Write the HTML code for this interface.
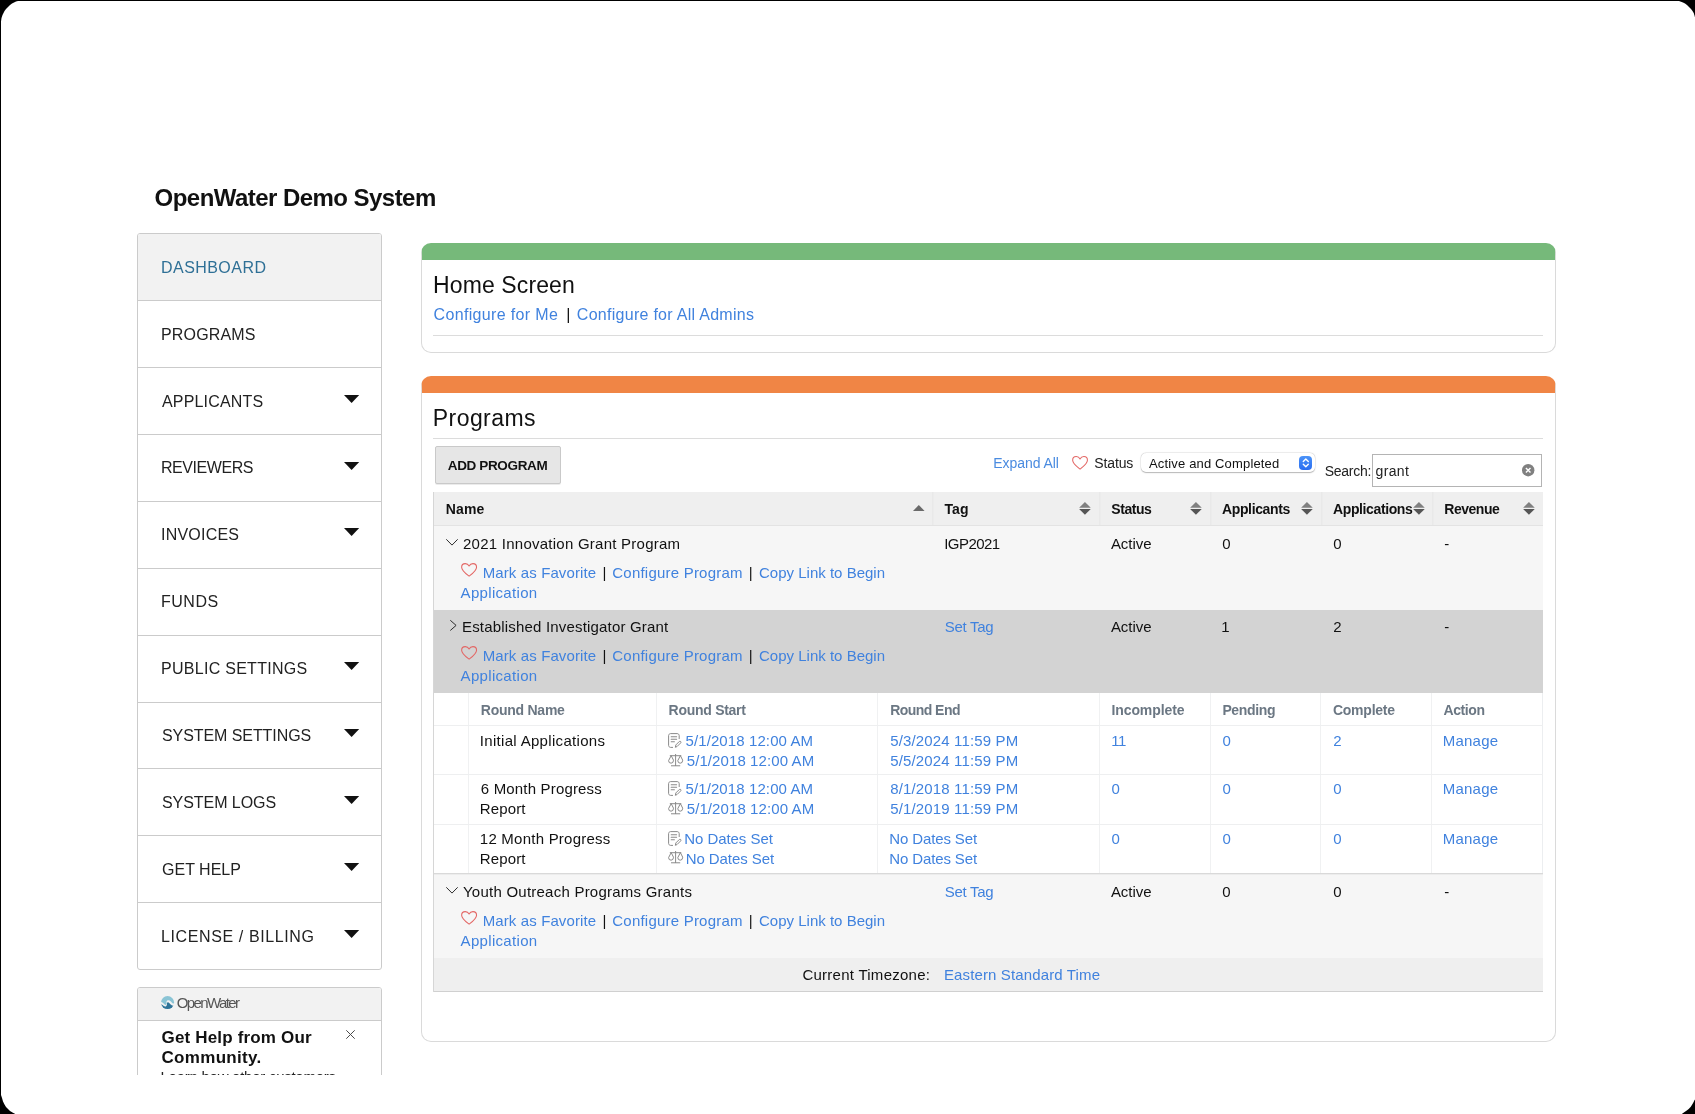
<!DOCTYPE html>
<html lang="en">
<head>
<meta charset="utf-8">
<title>OpenWater Demo System</title>
<style>
html,body{margin:0;padding:0;}
body{width:1695px;height:1114px;overflow:hidden;background:#000;font-family:"Liberation Sans",sans-serif;position:relative;}
#screen{position:absolute;left:0;top:0;width:1695px;height:1114px;background:#fff;overflow:hidden;
  clip-path:polygon(1px 21.5px,1.5px 18px,2.5px 15px,3.5px 13px,4.5px 11px,6px 9px,8px 7px,10px 5px,12px 3.6px,14px 2.6px,16px 1.6px,18px 1px,1679px 1px,1681px 1.7px,1683px 2.6px,1685px 3.6px,1687px 5px,1689px 7px,1691px 9px,1692.5px 11px,1693.7px 13px,1694.5px 15.5px,1695px 17.5px,1695px 1099.5px,1694.3px 1100.5px,1693.5px 1102.3px,1692.2px 1104.5px,1690.8px 1106.7px,1688.7px 1108.9px,1686.4px 1110.7px,1684.2px 1112.3px,1681.8px 1114px,15.3px 1114px,12.5px 1112.6px,10px 1111px,8px 1109px,6px 1107px,4.5px 1104.5px,3px 1101.5px,2px 1098px,1px 1095px);}
#page{position:absolute;left:0;top:0;width:1695px;height:1114px;}
#clip{position:absolute;left:0;top:0;width:1695px;height:1075px;overflow:hidden;will-change:transform;}
.abs{position:absolute;box-sizing:border-box;}
.t{position:absolute;white-space:pre;line-height:20px;height:20px;font-family:"Liberation Sans",sans-serif;}
svg{position:absolute;overflow:visible;}
/* sidebar */
.side{left:137px;top:233px;width:245px;height:737px;border:1px solid #cbcbcb;border-radius:3px;background:#fff;}
.side .sep{position:absolute;left:0;width:243px;height:1px;background:#cbcbcb;}
.side .on{position:absolute;left:0;top:0;width:243px;height:66px;background:#f2f2f2;border-radius:2px 2px 0 0;}
.help{left:137px;top:987px;width:245px;height:130px;border:1px solid #cbcbcb;border-radius:3px;background:#fff;}
.help .hd{position:absolute;left:0;top:0;width:243px;height:32px;background:#f2f2f2;border-bottom:1px solid #cbcbcb;border-radius:2px 2px 0 0;}
/* panels */
.panel{left:420.7px;width:1135.3px;border:1px solid #dadada;border-top-width:17px;border-radius:10px;background:#fff;}
.hr{left:433px;width:1110px;height:1px;background:#dcdcdc;}
.btn{left:435px;top:446px;width:126px;height:38px;background:#e6e6e6;border:1px solid #c9c9c9;border-radius:2px;box-shadow:0 1px 0 rgba(0,0,0,.08);}
.sel{left:1140.7px;top:453.4px;width:174px;height:18.4px;background:#fff;border-radius:5px;
  box-shadow:0 0 0 .5px rgba(0,0,0,.08),0 .5px 1.2px rgba(0,0,0,.26);}
.step{left:1298.5px;top:456.4px;width:13.6px;height:13.6px;border-radius:4px;background:linear-gradient(#4b93f8,#2a6df0);}
.inp{left:1372px;top:454px;width:170px;height:33px;border:1px solid #b4b4b4;background:#fff;}
/* table */
.row{left:434px;width:1109px;}
.vl{width:1px;}
</style>
</head>
<body>
<div id="screen"><div id="page"><div id="clip">

<!-- ===== sidebar ===== -->
<div class="abs side"><div class="on"></div>
<div class="sep" style="top:66px"></div>
<div class="sep" style="top:133px"></div>
<div class="sep" style="top:200px"></div>
<div class="sep" style="top:267px"></div>
<div class="sep" style="top:334px"></div>
<div class="sep" style="top:401px"></div>
<div class="sep" style="top:468px"></div>
<div class="sep" style="top:534px"></div>
<div class="sep" style="top:601px"></div>
<div class="sep" style="top:668px"></div>
</div>
<svg style="left:343.6px;top:394.6px" width="15.2" height="8" viewBox="0 0 15.2 8"><path d="M0 0 H15.2 L7.6 8 Z" fill="#111"/></svg>
<svg style="left:343.6px;top:461.5px" width="15.2" height="8" viewBox="0 0 15.2 8"><path d="M0 0 H15.2 L7.6 8 Z" fill="#111"/></svg>
<svg style="left:343.6px;top:528.4px" width="15.2" height="8" viewBox="0 0 15.2 8"><path d="M0 0 H15.2 L7.6 8 Z" fill="#111"/></svg>
<svg style="left:343.6px;top:662.2px" width="15.2" height="8" viewBox="0 0 15.2 8"><path d="M0 0 H15.2 L7.6 8 Z" fill="#111"/></svg>
<svg style="left:343.6px;top:729.1px" width="15.2" height="8" viewBox="0 0 15.2 8"><path d="M0 0 H15.2 L7.6 8 Z" fill="#111"/></svg>
<svg style="left:343.6px;top:796.0px" width="15.2" height="8" viewBox="0 0 15.2 8"><path d="M0 0 H15.2 L7.6 8 Z" fill="#111"/></svg>
<svg style="left:343.6px;top:862.9px" width="15.2" height="8" viewBox="0 0 15.2 8"><path d="M0 0 H15.2 L7.6 8 Z" fill="#111"/></svg>
<svg style="left:343.6px;top:929.8px" width="15.2" height="8" viewBox="0 0 15.2 8"><path d="M0 0 H15.2 L7.6 8 Z" fill="#111"/></svg>

<!-- ===== help widget ===== -->
<div class="abs help"><div class="hd"></div></div>
<svg style="left:160.7px;top:995.8px" width="13.1" height="13.1" viewBox="0 0 13 13">
  <defs><clipPath id="lc"><circle cx="6.5" cy="6.5" r="6.5"/></clipPath></defs>
  <g clip-path="url(#lc)">
    <path d="M-1 -1 H14 V7.5 L12.4 7.5 C11.5 7.5 10.8 6.4 9.8 5.4 C8.8 4.4 7.6 4 6.6 4.3 C5.6 4.7 5.2 5.6 5.5 6.6 C5.8 7.7 5.6 8.6 4.9 8.8 C3.9 9 3 7.7 1.8 6.7 C1 6.1 .3 5.9 -1 5.9 Z" fill="#8ac4d5"/>
    <path d="M-1 8 C.8 8.2 1.8 9.2 2.8 10 C3.6 10.6 4.6 10.6 5.3 9.9 C6 9.2 5.9 8.2 6 7.3 C6.1 6.6 6.4 6.2 6.9 6.3 C7.8 6.6 8.6 7.6 9.6 8.4 C10.6 9.2 11.4 9.6 12.5 9.6 L14 9.6 V14 H-1 Z" fill="#2e7499"/>
  </g>
</svg>
<svg style="left:345.8px;top:1030.3px" width="9" height="9" viewBox="0 0 9 9"><path d="M.3 .3 L8.7 8.7 M8.7 .3 L.3 8.7" stroke="#4a4a4a" stroke-width="1" fill="none"/></svg>

<!-- ===== home panel ===== -->
<div class="abs panel" style="top:243px;height:110px;border-top-color:#76b97a;"></div>
<div class="abs hr" style="top:335px"></div>

<!-- ===== programs panel ===== -->
<div class="abs panel" style="top:376px;height:666px;border-top-color:#f08545;"></div>
<div class="abs hr" style="top:438px"></div>
<div class="abs btn"></div>
<div class="abs sel"></div>
<div class="abs step"></div>
<svg style="left:1298.5px;top:456.4px" width="13.6" height="13.6" viewBox="0 0 13.6 13.6"><path d="M4.3 5.4 L6.8 3 L9.3 5.4 M4.3 8.3 L6.8 10.7 L9.3 8.3" stroke="#fff" stroke-width="1.4" fill="none" stroke-linecap="round" stroke-linejoin="round"/></svg>
<div class="abs inp"></div>
<svg style="left:1521.9px;top:464.3px" width="12.4" height="12.4" viewBox="0 0 12.4 12.4"><circle cx="6.2" cy="6.2" r="6.2" fill="#808080"/><path d="M3.9 3.9 L8.5 8.5 M8.5 3.9 L3.9 8.5" stroke="#fff" stroke-width="1.4" fill="none"/></svg>

<!-- table backgrounds -->
<div class="abs row" style="top:492px;height:34px;background:#efefef;border-bottom:1px solid #e3e3e3;"></div>
<div class="abs row" style="top:526px;height:84px;background:#f6f6f6;"></div>
<div class="abs row" style="top:610px;height:83px;background:#d3d3d3;"></div>
<div class="abs row" style="top:693px;height:182px;background:#fff;"></div>
<div class="abs row" style="top:875px;height:83px;background:#f6f6f6;"></div>
<div class="abs row" style="top:958px;height:34px;background:#efefef;border-bottom:1px solid #d0d0d0;"></div>
<!-- table side borders -->
<div class="abs vl" style="left:433px;top:492px;height:500px;background:#d6d6d6;"></div>
<!-- header col seps -->
<div class="abs vl" style="left:932px;top:492px;height:33px;background:#e9e9e9;"></div>
<div class="abs vl" style="left:933px;top:492px;height:33px;background:#ececec;"></div>
<div class="abs vl" style="left:1099px;top:492px;height:33px;background:#e9e9e9;"></div>
<div class="abs vl" style="left:1100px;top:492px;height:33px;background:#ececec;"></div>
<div class="abs vl" style="left:1210px;top:492px;height:33px;background:#e9e9e9;"></div>
<div class="abs vl" style="left:1211px;top:492px;height:33px;background:#ececec;"></div>
<div class="abs vl" style="left:1321px;top:492px;height:33px;background:#e9e9e9;"></div>
<div class="abs vl" style="left:1322px;top:492px;height:33px;background:#ececec;"></div>
<div class="abs vl" style="left:1432px;top:492px;height:33px;background:#e9e9e9;"></div>
<div class="abs vl" style="left:1433px;top:492px;height:33px;background:#ececec;"></div>
<!-- subtable lines -->
<div class="abs vl" style="left:468px;top:693px;height:181px;background:#f0f1f2;"></div>
<div class="abs vl" style="left:656px;top:693px;height:181px;background:#f0f1f2;"></div>
<div class="abs vl" style="left:877px;top:693px;height:181px;background:#f0f1f2;"></div>
<div class="abs vl" style="left:1099px;top:693px;height:181px;background:#f0f1f2;"></div>
<div class="abs vl" style="left:1210px;top:693px;height:181px;background:#f0f1f2;"></div>
<div class="abs vl" style="left:1320px;top:693px;height:181px;background:#f0f1f2;"></div>
<div class="abs vl" style="left:1431px;top:693px;height:181px;background:#f0f1f2;"></div>
<div class="abs vl" style="left:1542px;top:693px;height:181px;background:#eceef0;"></div>
<div class="abs" style="left:434px;top:725px;width:1109px;height:1px;background:#eeeff0;"></div>
<div class="abs" style="left:434px;top:774px;width:1109px;height:1px;background:#eeeff0;"></div>
<div class="abs" style="left:434px;top:823.5px;width:1109px;height:1px;background:#eeeff0;"></div>
<div class="abs" style="left:434px;top:873px;width:1109px;height:1px;background:#d9d9d9;"></div><div class="abs" style="left:434px;top:874px;width:1109px;height:1px;background:#ececec;"></div>
<!-- icons -->
<svg style="left:1079.4px;top:502.1px" width="11.9" height="12.8" viewBox="0 0 11.6 12.8"><path d="M0 5.8 L5.8 0 L11.6 5.8 Z" fill="#808080"/><path d="M0 7 L5.8 12.8 L11.6 7 Z" fill="#555"/></svg>
<svg style="left:1190.1px;top:502.1px" width="11.9" height="12.8" viewBox="0 0 11.6 12.8"><path d="M0 5.8 L5.8 0 L11.6 5.8 Z" fill="#808080"/><path d="M0 7 L5.8 12.8 L11.6 7 Z" fill="#555"/></svg>
<svg style="left:1301.1px;top:502.1px" width="11.9" height="12.8" viewBox="0 0 11.6 12.8"><path d="M0 5.8 L5.8 0 L11.6 5.8 Z" fill="#808080"/><path d="M0 7 L5.8 12.8 L11.6 7 Z" fill="#555"/></svg>
<svg style="left:1412.7px;top:502.1px" width="11.9" height="12.8" viewBox="0 0 11.6 12.8"><path d="M0 5.8 L5.8 0 L11.6 5.8 Z" fill="#808080"/><path d="M0 7 L5.8 12.8 L11.6 7 Z" fill="#555"/></svg>
<svg style="left:1523.3px;top:502.1px" width="11.9" height="12.8" viewBox="0 0 11.6 12.8"><path d="M0 5.8 L5.8 0 L11.6 5.8 Z" fill="#808080"/><path d="M0 7 L5.8 12.8 L11.6 7 Z" fill="#555"/></svg>
<svg style="left:912.9px;top:505.4px" width="11.6" height="6.2" viewBox="0 0 11.6 6"><path d="M0 6 L5.8 0 L11.6 6 Z" fill="#6a6a6a"/></svg>
<svg style="left:1071.9px;top:455.9px" width="16.1" height="13.7" viewBox="0 0 16 13.7"><path d="M8 13.1 C5.2 10.9 .6 7.6 .6 4.2 C.6 2.1 2.2 .6 4.2 .6 C5.8 .6 7.2 1.5 8 3 C8.8 1.5 10.2 .6 11.8 .6 C13.8 .6 15.4 2.1 15.4 4.2 C15.4 7.6 10.8 10.9 8 13.1 Z" fill="none" stroke="#e36664" stroke-width="1.05" stroke-linejoin="round"/></svg>
<svg style="left:446.3px;top:538.8px" width="12" height="6.6" viewBox="0 0 12 6.6"><path d="M.3 .3 L6 6.1 L11.7 .3" fill="none" stroke="#222" stroke-width=".95"/></svg>
<svg style="left:446.3px;top:886.8px" width="12" height="6.6" viewBox="0 0 12 6.6"><path d="M.3 .3 L6 6.1 L11.7 .3" fill="none" stroke="#222" stroke-width=".95"/></svg>
<svg style="left:449.5px;top:620px" width="6.6" height="10.8" viewBox="0 0 6.6 10.8"><path d="M.3 .3 L6.1 5.4 L.3 10.5" fill="none" stroke="#222" stroke-width=".95"/></svg>
<svg style="left:460.9px;top:563.2px" width="16.2" height="13.8" viewBox="0 0 16 13.7"><path d="M8 13.1 C5.2 10.9 .6 7.6 .6 4.2 C.6 2.1 2.2 .6 4.2 .6 C5.8 .6 7.2 1.5 8 3 C8.8 1.5 10.2 .6 11.8 .6 C13.8 .6 15.4 2.1 15.4 4.2 C15.4 7.6 10.8 10.9 8 13.1 Z" fill="none" stroke="#e36664" stroke-width="1.05" stroke-linejoin="round"/></svg>
<svg style="left:460.9px;top:646.2px" width="16.2" height="13.8" viewBox="0 0 16 13.7"><path d="M8 13.1 C5.2 10.9 .6 7.6 .6 4.2 C.6 2.1 2.2 .6 4.2 .6 C5.8 .6 7.2 1.5 8 3 C8.8 1.5 10.2 .6 11.8 .6 C13.8 .6 15.4 2.1 15.4 4.2 C15.4 7.6 10.8 10.9 8 13.1 Z" fill="none" stroke="#e36664" stroke-width="1.05" stroke-linejoin="round"/></svg>
<svg style="left:460.9px;top:911.2px" width="16.2" height="13.8" viewBox="0 0 16 13.7"><path d="M8 13.1 C5.2 10.9 .6 7.6 .6 4.2 C.6 2.1 2.2 .6 4.2 .6 C5.8 .6 7.2 1.5 8 3 C8.8 1.5 10.2 .6 11.8 .6 C13.8 .6 15.4 2.1 15.4 4.2 C15.4 7.6 10.8 10.9 8 13.1 Z" fill="none" stroke="#e36664" stroke-width="1.05" stroke-linejoin="round"/></svg>
<svg style="left:668px;top:733.0px" width="13.3" height="15" viewBox="0 0 13.3 15"><g fill="none" stroke="#8a8a8a" stroke-width="1" stroke-linecap="round"><path d="M4.6 14.4 H2.6 C1.5 14.4 .6 13.5 .6 12.4 V2.6 C.6 1.5 1.5 .6 2.6 .6 H9.2 C10.3 .6 11.2 1.5 11.2 2.6 V5.6"/><path d="M3.2 3.8 H8.6 M3.2 6.3 H8.6 M3.2 8.8 H6.4" stroke-width="1.1"/><path d="M7.4 13.9 L7.9 11.9 L11.3 8.5 C11.7 8.1 12.3 8.1 12.7 8.5 C13.1 8.9 13.1 9.5 12.7 9.9 L9.3 13.3 Z" stroke-linejoin="round"/></g></svg>
<svg style="left:668px;top:753.6px" width="15" height="12.2" viewBox="0 0 15 12.2"><g fill="none" stroke="#8a8a8a" stroke-width="1" stroke-linecap="round" stroke-linejoin="round"><path d="M7.6 .4 V11.6 M3.4 11.8 H11.8 M2.2 1.7 H12.9"/><path d="M3 2 L.6 6.6 A2.45 2.6 0 0 0 5.5 6.6 Z"/><path d="M12.2 2 L9.8 6.6 A2.45 2.6 0 0 0 14.7 6.6 Z"/></g></svg>
<svg style="left:668px;top:781.4px" width="13.3" height="15" viewBox="0 0 13.3 15"><g fill="none" stroke="#8a8a8a" stroke-width="1" stroke-linecap="round"><path d="M4.6 14.4 H2.6 C1.5 14.4 .6 13.5 .6 12.4 V2.6 C.6 1.5 1.5 .6 2.6 .6 H9.2 C10.3 .6 11.2 1.5 11.2 2.6 V5.6"/><path d="M3.2 3.8 H8.6 M3.2 6.3 H8.6 M3.2 8.8 H6.4" stroke-width="1.1"/><path d="M7.4 13.9 L7.9 11.9 L11.3 8.5 C11.7 8.1 12.3 8.1 12.7 8.5 C13.1 8.9 13.1 9.5 12.7 9.9 L9.3 13.3 Z" stroke-linejoin="round"/></g></svg>
<svg style="left:668px;top:801.9px" width="15" height="12.2" viewBox="0 0 15 12.2"><g fill="none" stroke="#8a8a8a" stroke-width="1" stroke-linecap="round" stroke-linejoin="round"><path d="M7.6 .4 V11.6 M3.4 11.8 H11.8 M2.2 1.7 H12.9"/><path d="M3 2 L.6 6.6 A2.45 2.6 0 0 0 5.5 6.6 Z"/><path d="M12.2 2 L9.8 6.6 A2.45 2.6 0 0 0 14.7 6.6 Z"/></g></svg>
<svg style="left:668px;top:830.9px" width="13.3" height="15" viewBox="0 0 13.3 15"><g fill="none" stroke="#8a8a8a" stroke-width="1" stroke-linecap="round"><path d="M4.6 14.4 H2.6 C1.5 14.4 .6 13.5 .6 12.4 V2.6 C.6 1.5 1.5 .6 2.6 .6 H9.2 C10.3 .6 11.2 1.5 11.2 2.6 V5.6"/><path d="M3.2 3.8 H8.6 M3.2 6.3 H8.6 M3.2 8.8 H6.4" stroke-width="1.1"/><path d="M7.4 13.9 L7.9 11.9 L11.3 8.5 C11.7 8.1 12.3 8.1 12.7 8.5 C13.1 8.9 13.1 9.5 12.7 9.9 L9.3 13.3 Z" stroke-linejoin="round"/></g></svg>
<svg style="left:668px;top:851.4px" width="15" height="12.2" viewBox="0 0 15 12.2"><g fill="none" stroke="#8a8a8a" stroke-width="1" stroke-linecap="round" stroke-linejoin="round"><path d="M7.6 .4 V11.6 M3.4 11.8 H11.8 M2.2 1.7 H12.9"/><path d="M3 2 L.6 6.6 A2.45 2.6 0 0 0 5.5 6.6 Z"/><path d="M12.2 2 L9.8 6.6 A2.45 2.6 0 0 0 14.7 6.6 Z"/></g></svg>

<span class="t" style="left:154.60px;top:187.50px;font-size:24px;font-weight:700;color:#111;letter-spacing:-0.544px;">OpenWater Demo System</span>
<span class="t" style="left:161.00px;top:257.50px;font-size:16px;font-weight:400;color:#2f7096;letter-spacing:0.450px;">DASHBOARD</span>
<span class="t" style="left:161.00px;top:324.50px;font-size:16px;font-weight:400;color:#222;letter-spacing:0.161px;">PROGRAMS</span>
<span class="t" style="left:162.00px;top:391.50px;font-size:16px;font-weight:400;color:#222;letter-spacing:0.165px;">APPLICANTS</span>
<span class="t" style="left:161.00px;top:457.50px;font-size:16px;font-weight:400;color:#222;letter-spacing:-0.443px;">REVIEWERS</span>
<span class="t" style="left:161.00px;top:524.50px;font-size:16px;font-weight:400;color:#222;letter-spacing:0.216px;">INVOICES</span>
<span class="t" style="left:161.00px;top:591.50px;font-size:16px;font-weight:400;color:#222;letter-spacing:0.516px;">FUNDS</span>
<span class="t" style="left:161.00px;top:658.50px;font-size:16px;font-weight:400;color:#222;letter-spacing:0.280px;">PUBLIC SETTINGS</span>
<span class="t" style="left:162.00px;top:725.50px;font-size:16px;font-weight:400;color:#222;letter-spacing:-0.076px;">SYSTEM SETTINGS</span>
<span class="t" style="left:162.00px;top:792.50px;font-size:16px;font-weight:400;color:#222;letter-spacing:-0.052px;">SYSTEM LOGS</span>
<span class="t" style="left:162.00px;top:859.50px;font-size:16px;font-weight:400;color:#222;letter-spacing:0.006px;">GET HELP</span>
<span class="t" style="left:161.00px;top:926.50px;font-size:16px;font-weight:400;color:#222;letter-spacing:0.611px;">LICENSE / BILLING</span>
<span class="t" style="left:433.00px;top:275.00px;font-size:23px;font-weight:400;color:#111;letter-spacing:0.117px;">Home Screen</span>
<span class="t" style="left:433.50px;top:304.50px;font-size:16px;font-weight:400;color:#4082de;letter-spacing:0.349px;">Configure for Me</span>
<span class="t" style="left:566.30px;top:304.50px;font-size:16px;font-weight:400;color:#111;">|</span>
<span class="t" style="left:576.80px;top:304.50px;font-size:16px;font-weight:400;color:#4082de;letter-spacing:0.278px;">Configure for All Admins</span>
<span class="t" style="left:432.80px;top:408.00px;font-size:23px;font-weight:400;color:#111;letter-spacing:0.430px;">Programs</span>
<span class="t" style="left:447.80px;top:455.50px;font-size:13.5px;font-weight:700;color:#111;letter-spacing:-0.365px;">ADD PROGRAM</span>
<span class="t" style="left:993.20px;top:453.00px;font-size:14px;font-weight:400;color:#4a8be0;letter-spacing:-0.047px;">Expand All</span>
<span class="t" style="left:1094.30px;top:453.00px;font-size:14px;font-weight:400;color:#222;letter-spacing:-0.138px;">Status</span>
<span class="t" style="left:1149.00px;top:453.50px;font-size:13px;font-weight:400;color:#111;letter-spacing:0.160px;">Active and Completed</span>
<span class="t" style="left:1324.80px;top:461.00px;font-size:14px;font-weight:400;color:#222;letter-spacing:-0.293px;">Search:</span>
<span class="t" style="left:1375.50px;top:461.00px;font-size:14px;font-weight:400;color:#222;letter-spacing:0.370px;">grant</span>
<span class="t" style="left:445.80px;top:499.00px;font-size:14px;font-weight:700;color:#111;letter-spacing:0.118px;">Name</span>
<span class="t" style="left:944.50px;top:499.00px;font-size:14px;font-weight:700;color:#111;letter-spacing:0.101px;">Tag</span>
<span class="t" style="left:1111.30px;top:499.00px;font-size:14px;font-weight:700;color:#111;letter-spacing:-0.460px;">Status</span>
<span class="t" style="left:1222.00px;top:499.00px;font-size:14px;font-weight:700;color:#111;letter-spacing:-0.364px;">Applicants</span>
<span class="t" style="left:1333.00px;top:499.00px;font-size:14px;font-weight:700;color:#111;letter-spacing:-0.384px;">Applications</span>
<span class="t" style="left:1444.30px;top:499.00px;font-size:14px;font-weight:700;color:#111;letter-spacing:-0.479px;">Revenue</span>
<span class="t" style="left:463.00px;top:533.50px;font-size:15px;font-weight:400;color:#111;letter-spacing:0.249px;">2021 Innovation Grant Program</span>
<span class="t" style="left:944.20px;top:533.50px;font-size:15px;font-weight:400;color:#111;letter-spacing:-0.544px;">IGP2021</span>
<span class="t" style="left:1110.90px;top:533.50px;font-size:15px;font-weight:400;color:#111;letter-spacing:-0.041px;">Active</span>
<span class="t" style="left:1222.30px;top:533.50px;font-size:15px;font-weight:400;color:#111;">0</span>
<span class="t" style="left:1333.30px;top:533.50px;font-size:15px;font-weight:400;color:#111;">0</span>
<span class="t" style="left:1444.30px;top:533.50px;font-size:15px;font-weight:400;color:#111;">-</span>
<span class="t" style="left:482.70px;top:562.50px;font-size:15px;font-weight:400;color:#4082de;letter-spacing:0.117px;">Mark as Favorite</span>
<span class="t" style="left:602.40px;top:562.50px;font-size:15px;font-weight:400;color:#111;">|</span>
<span class="t" style="left:612.30px;top:562.50px;font-size:15px;font-weight:400;color:#4082de;letter-spacing:0.217px;">Configure Program</span>
<span class="t" style="left:748.80px;top:562.50px;font-size:15px;font-weight:400;color:#111;">|</span>
<span class="t" style="left:759.00px;top:562.50px;font-size:15px;font-weight:400;color:#4082de;letter-spacing:0.008px;">Copy Link to Begin</span>
<span class="t" style="left:460.60px;top:582.50px;font-size:15px;font-weight:400;color:#4082de;letter-spacing:0.316px;">Application</span>
<span class="t" style="left:462.00px;top:616.50px;font-size:15px;font-weight:400;color:#111;letter-spacing:0.180px;">Established Investigator Grant</span>
<span class="t" style="left:944.70px;top:616.50px;font-size:15px;font-weight:400;color:#4082de;letter-spacing:-0.271px;">Set Tag</span>
<span class="t" style="left:1110.90px;top:616.50px;font-size:15px;font-weight:400;color:#111;letter-spacing:-0.041px;">Active</span>
<span class="t" style="left:1221.30px;top:616.50px;font-size:15px;font-weight:400;color:#111;">1</span>
<span class="t" style="left:1333.30px;top:616.50px;font-size:15px;font-weight:400;color:#111;">2</span>
<span class="t" style="left:1444.30px;top:616.50px;font-size:15px;font-weight:400;color:#111;">-</span>
<span class="t" style="left:482.70px;top:645.50px;font-size:15px;font-weight:400;color:#4082de;letter-spacing:0.117px;">Mark as Favorite</span>
<span class="t" style="left:602.40px;top:645.50px;font-size:15px;font-weight:400;color:#111;">|</span>
<span class="t" style="left:612.30px;top:645.50px;font-size:15px;font-weight:400;color:#4082de;letter-spacing:0.217px;">Configure Program</span>
<span class="t" style="left:748.80px;top:645.50px;font-size:15px;font-weight:400;color:#111;">|</span>
<span class="t" style="left:759.00px;top:645.50px;font-size:15px;font-weight:400;color:#4082de;letter-spacing:0.008px;">Copy Link to Begin</span>
<span class="t" style="left:460.60px;top:665.50px;font-size:15px;font-weight:400;color:#4082de;letter-spacing:0.316px;">Application</span>
<span class="t" style="left:463.00px;top:881.50px;font-size:15px;font-weight:400;color:#111;letter-spacing:0.236px;">Youth Outreach Programs Grants</span>
<span class="t" style="left:944.70px;top:881.50px;font-size:15px;font-weight:400;color:#4082de;letter-spacing:-0.271px;">Set Tag</span>
<span class="t" style="left:1110.90px;top:881.50px;font-size:15px;font-weight:400;color:#111;letter-spacing:-0.041px;">Active</span>
<span class="t" style="left:1222.30px;top:881.50px;font-size:15px;font-weight:400;color:#111;">0</span>
<span class="t" style="left:1333.30px;top:881.50px;font-size:15px;font-weight:400;color:#111;">0</span>
<span class="t" style="left:1444.30px;top:881.50px;font-size:15px;font-weight:400;color:#111;">-</span>
<span class="t" style="left:482.70px;top:910.50px;font-size:15px;font-weight:400;color:#4082de;letter-spacing:0.117px;">Mark as Favorite</span>
<span class="t" style="left:602.40px;top:910.50px;font-size:15px;font-weight:400;color:#111;">|</span>
<span class="t" style="left:612.30px;top:910.50px;font-size:15px;font-weight:400;color:#4082de;letter-spacing:0.217px;">Configure Program</span>
<span class="t" style="left:748.80px;top:910.50px;font-size:15px;font-weight:400;color:#111;">|</span>
<span class="t" style="left:759.00px;top:910.50px;font-size:15px;font-weight:400;color:#4082de;letter-spacing:0.008px;">Copy Link to Begin</span>
<span class="t" style="left:460.60px;top:930.50px;font-size:15px;font-weight:400;color:#4082de;letter-spacing:0.316px;">Application</span>
<span class="t" style="left:480.80px;top:700.00px;font-size:14px;font-weight:700;color:#6b7783;letter-spacing:-0.250px;">Round Name</span>
<span class="t" style="left:668.60px;top:700.00px;font-size:14px;font-weight:700;color:#6b7783;letter-spacing:-0.274px;">Round Start</span>
<span class="t" style="left:890.20px;top:700.00px;font-size:14px;font-weight:700;color:#6b7783;letter-spacing:-0.550px;">Round End</span>
<span class="t" style="left:1111.40px;top:700.00px;font-size:14px;font-weight:700;color:#6b7783;letter-spacing:-0.080px;">Incomplete</span>
<span class="t" style="left:1222.40px;top:700.00px;font-size:14px;font-weight:700;color:#6b7783;letter-spacing:-0.361px;">Pending</span>
<span class="t" style="left:1332.90px;top:700.00px;font-size:14px;font-weight:700;color:#6b7783;letter-spacing:-0.229px;">Complete</span>
<span class="t" style="left:1443.50px;top:700.00px;font-size:14px;font-weight:700;color:#6b7783;letter-spacing:-0.400px;">Action</span>
<span class="t" style="left:479.80px;top:730.50px;font-size:15px;font-weight:400;color:#111;letter-spacing:0.312px;">Initial Applications</span>
<span class="t" style="left:685.50px;top:730.50px;font-size:15px;font-weight:400;color:#4082de;letter-spacing:0.102px;">5/1/2018 12:00 AM</span>
<span class="t" style="left:686.70px;top:750.50px;font-size:15px;font-weight:400;color:#4082de;letter-spacing:0.096px;">5/1/2018 12:00 AM</span>
<span class="t" style="left:890.20px;top:730.50px;font-size:15px;font-weight:400;color:#4082de;letter-spacing:0.147px;">5/3/2024 11:59 PM</span>
<span class="t" style="left:890.20px;top:750.50px;font-size:15px;font-weight:400;color:#4082de;letter-spacing:0.147px;">5/5/2024 11:59 PM</span>
<span class="t" style="left:1111.30px;top:730.50px;font-size:15px;font-weight:400;color:#4082de;letter-spacing:-0.529px;">11</span>
<span class="t" style="left:1222.60px;top:730.50px;font-size:15px;font-weight:400;color:#4082de;">0</span>
<span class="t" style="left:1333.30px;top:730.50px;font-size:15px;font-weight:400;color:#4082de;">2</span>
<span class="t" style="left:1442.70px;top:730.50px;font-size:15px;font-weight:400;color:#4082de;letter-spacing:0.247px;">Manage</span>
<span class="t" style="left:480.80px;top:778.50px;font-size:15px;font-weight:400;color:#111;letter-spacing:0.174px;">6 Month Progress</span>
<span class="t" style="left:479.80px;top:798.50px;font-size:15px;font-weight:400;color:#111;letter-spacing:0.129px;">Report</span>
<span class="t" style="left:685.50px;top:778.50px;font-size:15px;font-weight:400;color:#4082de;letter-spacing:0.102px;">5/1/2018 12:00 AM</span>
<span class="t" style="left:686.70px;top:798.50px;font-size:15px;font-weight:400;color:#4082de;letter-spacing:0.096px;">5/1/2018 12:00 AM</span>
<span class="t" style="left:890.20px;top:778.50px;font-size:15px;font-weight:400;color:#4082de;letter-spacing:0.147px;">8/1/2018 11:59 PM</span>
<span class="t" style="left:890.20px;top:798.50px;font-size:15px;font-weight:400;color:#4082de;letter-spacing:0.147px;">5/1/2019 11:59 PM</span>
<span class="t" style="left:1111.60px;top:778.50px;font-size:15px;font-weight:400;color:#4082de;">0</span>
<span class="t" style="left:1222.60px;top:778.50px;font-size:15px;font-weight:400;color:#4082de;">0</span>
<span class="t" style="left:1333.30px;top:778.50px;font-size:15px;font-weight:400;color:#4082de;">0</span>
<span class="t" style="left:1442.70px;top:778.50px;font-size:15px;font-weight:400;color:#4082de;letter-spacing:0.247px;">Manage</span>
<span class="t" style="left:479.80px;top:828.50px;font-size:15px;font-weight:400;color:#111;letter-spacing:0.236px;">12 Month Progress</span>
<span class="t" style="left:479.80px;top:848.50px;font-size:15px;font-weight:400;color:#111;letter-spacing:0.129px;">Report</span>
<span class="t" style="left:684.20px;top:828.50px;font-size:15px;font-weight:400;color:#4082de;letter-spacing:-0.049px;">No Dates Set</span>
<span class="t" style="left:685.70px;top:848.50px;font-size:15px;font-weight:400;color:#4082de;letter-spacing:-0.067px;">No Dates Set</span>
<span class="t" style="left:889.20px;top:828.50px;font-size:15px;font-weight:400;color:#4082de;letter-spacing:-0.113px;">No Dates Set</span>
<span class="t" style="left:889.20px;top:848.50px;font-size:15px;font-weight:400;color:#4082de;letter-spacing:-0.113px;">No Dates Set</span>
<span class="t" style="left:1111.60px;top:828.50px;font-size:15px;font-weight:400;color:#4082de;">0</span>
<span class="t" style="left:1222.60px;top:828.50px;font-size:15px;font-weight:400;color:#4082de;">0</span>
<span class="t" style="left:1333.30px;top:828.50px;font-size:15px;font-weight:400;color:#4082de;">0</span>
<span class="t" style="left:1442.70px;top:828.50px;font-size:15px;font-weight:400;color:#4082de;letter-spacing:0.247px;">Manage</span>
<span class="t" style="left:802.40px;top:964.50px;font-size:15px;font-weight:400;color:#111;letter-spacing:0.263px;">Current Timezone:</span>
<span class="t" style="left:943.90px;top:964.50px;font-size:15px;font-weight:400;color:#4082de;letter-spacing:0.138px;">Eastern Standard Time</span>
<span class="t" style="left:176.80px;top:992.50px;font-size:15px;font-weight:400;color:#555;letter-spacing:-1.618px;font-weight:400;">OpenWater</span>
<span class="t" style="left:161.50px;top:1027.50px;font-size:17px;font-weight:700;color:#111;letter-spacing:0.173px;">Get Help from Our</span>
<span class="t" style="left:161.50px;top:1047.50px;font-size:17px;font-weight:700;color:#111;letter-spacing:0.318px;">Community.</span>
<span class="t" style="left:160.50px;top:1066.50px;font-size:15px;font-weight:400;color:#222;letter-spacing:-0.261px;">Learn how other customers</span>

</div></div></div>
</body>
</html>
